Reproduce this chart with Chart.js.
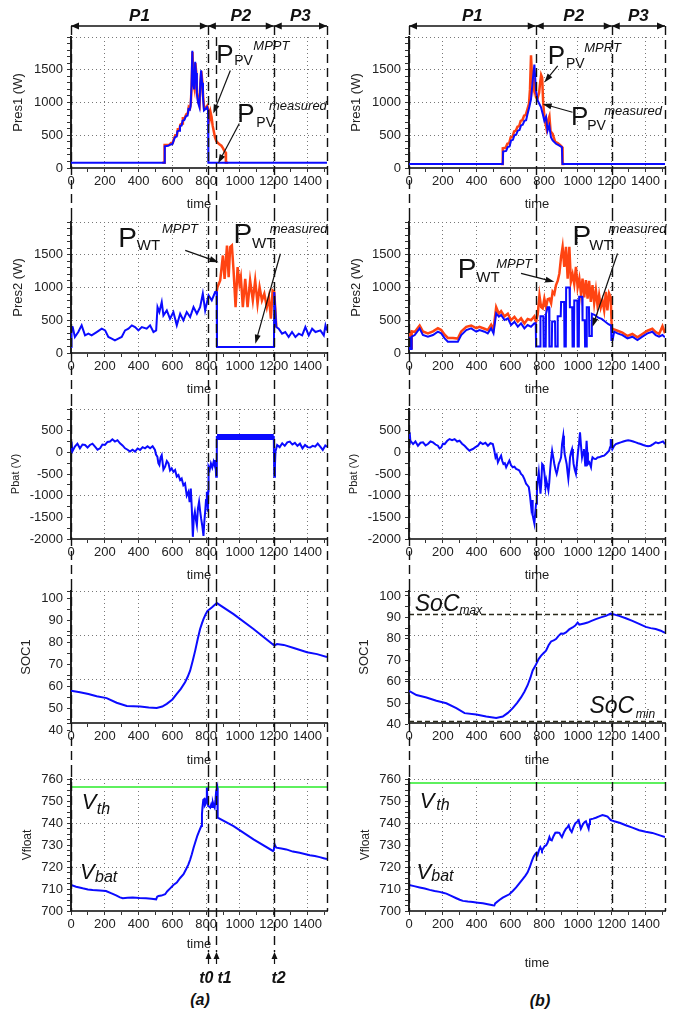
<!DOCTYPE html>
<html>
<head>
<meta charset="utf-8">
<script src="https://cdn.jsdelivr.net/npm/chart.js@4.4.1/dist/chart.umd.min.js"></script>
<style>
  html, body { margin: 0; padding: 0; background: #fff; }
  #fig { position: relative; width: 689px; height: 1015px; overflow: hidden; }
  #fig canvas { position: absolute; }
  .cap { position: absolute; transform: translate(-50%, -50%);
         font: italic bold 16px "Liberation Sans", Arial, sans-serif; color: #111; }
</style>
</head>
<body>
<div id="fig">
  <div class="cap" style="left:200px;top:1000px">(a)</div>
  <div class="cap" style="left:540px;top:1001px">(b)</div>
</div>
<script>
// ---------- data: [time, value] ----------
const pres1aMeasured = [[0,82],[553,82],[555,330],[575,340],[590,360],[600,365],[605,400],[615,470],[625,480],[630,560],[640,570],[645,640],[655,650],[660,720],[670,730],[680,790],[690,800],[695,900],[703,890],[708,950],[713,1240],[718,1790],[723,1300],[729,1200],[735,1620],[740,1450],[745,1130],[752,1000],[760,930],[765,1280],[770,1490],[776,1300],[781,1080],[787,880],[796,900],[805,930],[811,880],[813,82],[1515,82]];
const pres1aMppt = [[540,82],[552,82],[554,350],[580,350],[592,380],[602,380],[607,430],[617,500],[627,500],[632,590],[642,590],[647,660],[657,680],[662,760],[672,760],[682,820],[692,840],[697,930],[704,910],[709,980],[714,1260],[719,1770],[724,1320],[730,1230],[736,1600],[741,1470],[746,1150],[753,1020],[761,960],[766,1300],[771,1480],[777,1320],[782,1100],[788,900],[797,920],[806,950],[812,900],[816,830],[821,760],[826,850],[832,780],[838,650],[845,560],[852,470],[860,410],[870,380],[880,360],[890,340],[900,300],[910,250],[915,240],[917,82],[930,82]];

const pres1bMeasured = [[0,60],[555,60],[557,250],[575,260],[584,320],[595,330],[604,420],[615,430],[624,500],[634,510],[644,570],[654,580],[663,650],[673,660],[683,720],[693,730],[702,830],[712,930],[722,1050],[732,1330],[742,1580],[752,1180],[761,1030],[771,980],[781,930],[791,830],[801,720],[811,780],[820,570],[830,650],[840,470],[850,420],[870,370],[890,340],[905,320],[908,60],[1515,60]];
const pres1bMppt = [[545,60],[553,60],[555,300],[572,310],[582,370],[593,380],[602,470],[613,480],[622,560],[632,570],[642,630],[652,640],[661,720],[671,730],[681,800],[691,810],[700,890],[710,980],[716,1200],[722,1720],[728,1400],[734,1250],[740,1380],[746,1150],[752,1080],[760,1060],[770,1150],[776,1300],[782,1420],[788,1380],[794,1000],[800,820],[806,700],[814,600],[822,720],[831,790],[838,560],[850,520],[865,400],[880,380],[895,350],[906,320],[909,60],[920,60]];

const pres2aMeasured = [[0,90],[3,400],[10,396],[23,244],[43,320],[63,422],[83,269],[103,295],[122,269],[152,320],[182,371],[202,345],[221,244],[241,219],[260,193],[280,219],[300,244],[320,345],[340,371],[360,422],[379,396],[399,345],[419,396],[448,371],[468,422],[488,320],[504,345],[512,701],[523,625],[537,778],[547,574],[567,650],[586,523],[606,625],[626,422],[646,600],[665,498],[685,625],[705,549],[725,701],[745,600],[764,701],[780,905],[794,650],[814,880],[833,803],[853,930],[862,930],[864,90],[1201,90],[1203,930],[1215,396],[1229,371],[1249,295],[1268,320],[1288,244],[1308,320],[1328,244],[1348,295],[1368,269],[1387,396],[1407,269],[1427,371],[1447,320],[1476,345],[1496,269],[1506,422],[1515,345]];
const pres2aMppt = [[855,900],[863,950],[867,1006],[883,1108],[899,1489],[909,1133],[923,1641],[933,1159],[942,1616],[952,1641],[962,1260],[974,701],[986,1311],[997,1057],[1005,1159],[1017,701],[1031,1133],[1045,701],[1060,1108],[1076,803],[1090,1108],[1104,752],[1116,1006],[1130,803],[1144,905],[1159,701],[1171,854],[1183,523],[1193,955],[1203,930],[1215,396]];

const pres2bMeasured = [[0,250],[4,60],[14,60],[16,250],[34,274],[63,376],[82,274],[112,249],[142,274],[171,325],[191,300],[211,224],[230,173],[260,173],[289,173],[309,274],[339,351],[368,376],[398,325],[417,351],[447,325],[466,300],[486,376],[500,300],[516,605],[532,554],[545,580],[565,503],[585,529],[604,427],[624,478],[644,402],[663,453],[683,376],[702,427],[722,402],[742,453],[750,453],[752,100],[776,100],[778,560],[795,560],[797,100],[809,100],[811,600],[820,700],[829,700],[831,100],[845,100],[847,480],[864,480],[866,100],[878,100],[880,560],[898,560],[900,780],[918,780],[920,100],[928,100],[930,1000],[950,1000],[952,700],[966,700],[968,100],[976,100],[978,800],[996,800],[998,100],[1005,100],[1007,860],[1025,860],[1027,500],[1040,500],[1042,100],[1050,100],[1052,700],[1065,700],[1067,260],[1080,260],[1082,600],[1100,580],[1120,540],[1140,520],[1160,480],[1180,440],[1196,420],[1198,200],[1205,200],[1214,325],[1234,300],[1263,274],[1293,224],[1322,249],[1352,198],[1381,249],[1411,300],[1440,325],[1460,274],[1480,249],[1500,274],[1515,239]];
const pres2bMppt = [[0,330],[4,80],[14,80],[16,330],[34,320],[63,420],[82,330],[112,300],[142,330],[171,380],[191,350],[211,280],[230,230],[260,230],[289,220],[309,330],[339,400],[368,420],[398,380],[417,400],[447,370],[466,350],[486,430],[500,360],[516,700],[532,600],[545,640],[565,560],[585,600],[604,500],[624,550],[644,480],[663,530],[683,450],[702,520],[722,500],[742,560],[752,480],[762,600],[772,880],[782,700],[791,680],[801,830],[811,700],[821,820],[831,830],[841,760],[850,935],[860,900],[870,1037],[880,1100],[890,1215],[900,1468],[909,1620],[919,1316],[929,1620],[939,1136],[949,1620],[958,1087],[968,1200],[978,1050],[988,1316],[998,1000],[1008,1136],[1018,900],[1027,1136],[1037,850],[1047,1112],[1057,830],[1066,1100],[1076,780],[1086,1037],[1096,760],[1106,960],[1116,720],[1125,884],[1135,700],[1145,800],[1155,650],[1165,935],[1174,650],[1184,910],[1194,850],[1200,376],[1214,360],[1234,340],[1263,310],[1293,260],[1322,290],[1352,240],[1381,290],[1411,340],[1440,370],[1460,320],[1480,290],[1500,410],[1515,300]];

const pbatA = [[0,50],[3,250],[8,20],[23,131],[38,200],[53,93],[68,180],[83,170],[98,110],[112,170],[127,200],[142,131],[157,60],[172,93],[186,180],[201,170],[216,240],[231,248],[245,300],[260,248],[275,280],[290,209],[305,160],[320,93],[335,60],[349,17],[364,60],[379,17],[394,90],[409,55],[424,120],[438,93],[453,140],[468,93],[483,140],[497,55],[503,-50],[511,-100],[517,-250],[523,-293],[530,-120],[537,-62],[547,-400],[557,-332],[567,-200],[577,-255],[586,-420],[596,-370],[606,-450],[616,-409],[626,-560],[636,-525],[646,-640],[655,-602],[665,-760],[675,-718],[685,-1000],[695,-911],[702,-1150],[709,-834],[715,-1300],[721,-1950],[727,-1500],[733,-1372],[739,-1550],[745,-1680],[751,-1300],[758,-1140],[764,-1350],[770,-1526],[777,-1700],[784,-1930],[789,-1600],[794,-1372],[799,-1100],[804,-911],[808,-1200],[810,-1372],[812,-900],[814,-332],[821,-400],[828,-255],[836,-350],[844,-216],[850,-300],[854,-178],[859,-564],[862,-500],[864,355],[1200,355],[1203,-564],[1207,-300],[1210,17],[1220,170],[1235,120],[1250,209],[1265,150],[1280,230],[1295,248],[1310,180],[1325,220],[1340,150],[1355,200],[1370,93],[1385,170],[1400,120],[1415,110],[1430,150],[1445,131],[1460,200],[1475,130],[1490,55],[1505,160],[1515,131]];
const pbatAHold = [[864,355],[1200,355]];

const pbatB = [[0,200],[4,459],[8,268],[24,191],[38,250],[53,153],[68,220],[83,230],[98,160],[112,191],[127,250],[142,230],[157,180],[171,153],[181,90],[191,115],[201,200],[211,191],[225,260],[240,306],[255,280],[270,306],[285,250],[299,268],[314,200],[329,153],[344,90],[358,38],[368,60],[378,76],[393,120],[408,153],[422,230],[437,191],[452,220],[467,153],[482,210],[496,191],[504,60],[512,-115],[519,-60],[526,-230],[535,-150],[545,-76],[552,-200],[559,-268],[567,-250],[575,-344],[585,-260],[594,-191],[604,-300],[614,-344],[624,-330],[634,-382],[644,-400],[653,-420],[663,-500],[673,-535],[683,-620],[693,-726],[701,-760],[709,-803],[716,-1000],[723,-1261],[728,-1100],[732,-1452],[737,-1550],[742,-1643],[747,-1400],[752,-1185],[757,-900],[762,-650],[768,-459],[773,-700],[778,-956],[783,-700],[788,-268],[796,-306],[802,-500],[808,-803],[813,-650],[817,-726],[821,-800],[825,-879],[830,-700],[835,-420],[841,-150],[847,38],[853,-100],[860,-268],[867,-400],[874,-497],[880,-400],[886,-268],[893,-200],[900,-115],[906,200],[913,382],[917,150],[921,-38],[927,-150],[933,-268],[938,-450],[943,-612],[948,-400],[953,-115],[959,0],[965,76],[970,-100],[974,-268],[981,-400],[988,-497],[994,-250],[1000,0],[1006,200],[1012,459],[1018,150],[1024,-115],[1030,0],[1035,76],[1039,-100],[1043,-306],[1047,-50],[1051,268],[1055,0],[1059,-268],[1067,-230],[1077,-344],[1081,-200],[1086,-115],[1096,-150],[1106,-153],[1116,-120],[1125,-115],[1140,-90],[1155,-76],[1170,-20],[1184,38],[1190,120],[1194,306],[1199,200],[1204,76],[1214,150],[1224,191],[1238,210],[1253,230],[1268,250],[1283,268],[1297,280],[1312,268],[1327,250],[1342,230],[1356,210],[1371,191],[1386,170],[1401,153],[1415,140],[1430,153],[1445,190],[1460,230],[1475,210],[1489,230],[1503,250],[1515,191]];

const socA = [[0,58],[53,57.3],[103,56.5],[152,55.5],[211,54.6],[270,52.5],[330,51.0],[409,50.8],[460,50.3],[507,50.1],[540,50.8],[567,52.0],[600,54.0],[626,56.5],[650,58.8],[675,61.8],[690,64.2],[705,67.1],[720,71.5],[735,76.2],[750,81.5],[764,86],[775,88.6],[784,90.5],[797,92.8],[808,94.3],[833,95.8],[863,97.8],[962,92.8],[1080,86],[1203,78.5],[1219,79.2],[1259,78.8],[1318,77.4],[1397,75.5],[1456,74.6],[1515,73.3]];
const socB = [[0,55.8],[44,53.8],[103,52.7],[162,51.2],[221,50.0],[280,47.7],[329,45.4],[398,44.8],[457,43.8],[516,43.1],[555,43.8],[585,45.5],[614,47.7],[640,50.2],[663,52.7],[683,55.4],[702,58.4],[718,61.8],[732,65.3],[752,68.1],[767,70.6],[782,72.2],[797,73.4],[811,74.5],[826,77.0],[841,78.8],[856,79.3],[870,79.9],[885,81.4],[900,82.5],[915,82.4],[929,83.0],[948,84.4],[968,85.3],[984,86.2],[998,87.6],[1008,86.6],[1017,86.8],[1037,87.2],[1057,87.6],[1080,88.4],[1106,89.2],[1135,90.0],[1165,90.7],[1194,91.8],[1243,90.7],[1283,89.6],[1322,88.4],[1362,87.0],[1401,85.6],[1430,85.0],[1460,84.6],[1490,83.8],[1515,82.8]];
const socMaxB = 91.4;
const socMinB = 41.5;

const vfloatA = [[0,711.8],[30,711],[69,710.3],[100,709.8],[128,709.5],[170,709.3],[207,709.1],[240,708],[267,707.1],[290,706.2],[306,705.8],[335,706],[365,706.1],[405,705.9],[444,705.8],[475,705.6],[504,705.3],[510,706.5],[518,706.8],[535,707],[557,707.6],[570,709],[587,710.3],[606,711.8],[626,712.9],[646,715],[666,716.7],[681,719],[695,721.2],[705,723.3],[715,725.8],[725,728.6],[735,731.1],[748,734.3],[759,736.4],[771,738.6],[775,744],[778,747],[783,750.5],[788,750.8],[792,748],[796,748.5],[800,751],[804,756.1],[808,750],[812,747.7],[818,747.5],[824,747],[830,748.5],[835,747.3],[840,749.2],[845,747.8],[850,747],[855,750.5],[859,754.5],[865,756.1],[867,745],[869,742.4],[962,738.6],[1080,732.6],[1195,727.3],[1200,727.6],[1205,730.3],[1210,729.4],[1215,728.8],[1245,728.4],[1274,728],[1313,727],[1353,726.5],[1383,725.9],[1413,725.3],[1443,725],[1472,724.5],[1495,724],[1515,723.6]];
const vfloatB = [[0,711.8],[30,711.3],[63,710.7],[93,710.2],[122,709.6],[151,709.1],[181,708.7],[201,708.3],[221,707.9],[250,706.9],[280,705.8],[300,705.1],[319,704.6],[348,704.3],[378,704.1],[407,703.8],[437,703.5],[466,703.1],[496,702.6],[505,702.5],[510,703.5],[516,703.8],[535,705],[555,706.1],[575,706.9],[594,707.6],[614,709.1],[634,710.7],[653,712.6],[673,714.5],[688,716],[702,717.6],[715,720],[728,722.9],[738,724.8],[748,726],[755,726.5],[761,725.5],[770,727.8],[777,729],[782,728.2],[787,727.5],[795,728.5],[803,729.5],[811,729.8],[820,731],[831,733.6],[837,732.4],[845,732.1],[855,734],[866,735.6],[878,735.7],[890,735.5],[897,734.5],[905,733.6],[917,735.8],[929,737.4],[937,738],[945,739],[953,737],[963,735.9],[973,738],[984,739.8],[994,740.5],[1004,741.3],[1010,739.5],[1017,737.4],[1030,739.5],[1040,740.5],[1047,740.8],[1055,739],[1063,737.4],[1067,739.5],[1071,741.6],[1090,742],[1106,742.4],[1125,743],[1145,743.6],[1160,743.3],[1175,742.9],[1194,741.3],[1214,740.8],[1250,740],[1283,739],[1322,737.9],[1362,736.7],[1401,736],[1440,735.5],[1480,734.5],[1515,733.6]];
const vthA = 756.4;
const vthB = 758.2;

// time axis
const X_MAX = 1515;
const timeLabels = [0, 200, 400, 600, 800, 1000, 1200, 1400];
const timeGrid = [200, 400, 600, 800, 1000, 1200, 1400];

// periods / events per column
const boundsA = [0, 810, 1200, 1515];
const boundsB = [0, 750, 1200, 1515];
const phaseNames = ['P1', 'P2', 'P3'];
const eventTimesA = [810, 860, 1200];
const eventNamesA = ['t0', 't1', 't2'];

// ---------- drawing ----------
const FONT = '"Liberation Sans", Arial, Helvetica, sans-serif';
Chart.defaults.font.family = FONT;
Chart.defaults.color = '#222';

const BLUE = '#0b0bff', RED = '#ff4412', GREEN = '#5ef05e', INK = '#111';

function range(a, b, s) {
  const r = [];
  for (let v = a; v <= b + 1e-9; v += s) r.push(+v.toFixed(4));
  return r;
}
function trace(list, color, width) {
  return { data: list.map(([x, y]) => ({ x, y })), borderColor: color, borderWidth: width,
           pointRadius: 0, fill: false, tension: 0 };
}
function level(value, color, width, dash) {
  return { data: [{ x: 0, y: value }, { x: X_MAX, y: value }], borderColor: color, borderWidth: width,
           borderDash: dash || [], pointRadius: 0, fill: false };
}

function arrowHead(ctx, x, y, ang, len = 8, half = 3.5) {
  const bx = x - len * Math.cos(ang), by = y - len * Math.sin(ang);
  ctx.beginPath();
  ctx.moveTo(x, y);
  ctx.lineTo(bx - half * Math.sin(ang), by + half * Math.cos(ang));
  ctx.lineTo(bx + half * Math.sin(ang), by - half * Math.cos(ang));
  ctx.closePath();
  ctx.fill();
}

const marks = new Map();
const figureMarks = {
  id: 'figureMarks',
  afterDraw(chart) {
    const m = marks.get(chart.canvas);
    if (!m) return;
    const { ctx, chartArea: area, scales: { x, y } } = chart;
    const px = t => x.getPixelForValue(t);
    const py = v => y.getPixelForValue(v);
    const c = m.col;
    const headerY = area.top - 11;
    ctx.save();
    ctx.strokeStyle = INK;
    ctx.fillStyle = INK;

    // dashed lines running down the whole column
    ctx.lineWidth = 1.4;
    ctx.setLineDash([9, 5]);
    const times = [...new Set([...c.bounds, ...c.events])];
    times.forEach(t => {
      const isBound = c.bounds.includes(t), isEvent = c.events.includes(t);
      let top = 0, bottom = chart.height;
      if (m.row === 0) top = isBound ? headerY : area.top;
      if (m.row === 4) bottom = isEvent ? area.bottom + 41 : area.bottom;
      const xx = Math.round(px(t)) + 0.5;
      ctx.beginPath(); ctx.moveTo(xx, top); ctx.lineTo(xx, bottom); ctx.stroke();
    });
    ctx.setLineDash([]);

    // period header
    if (m.row === 0) {
      ctx.lineWidth = 1.3;
      phaseNames.forEach((name, i) => {
        const x1 = px(c.bounds[i]), x2 = px(c.bounds[i + 1]);
        ctx.beginPath(); ctx.moveTo(x1, headerY); ctx.lineTo(x2, headerY); ctx.stroke();
        arrowHead(ctx, x1, headerY, Math.PI);
        arrowHead(ctx, x2, headerY, 0);
        ctx.font = `italic bold 17px ${FONT}`;
        ctx.textAlign = 'center';
        ctx.textBaseline = 'middle';
        ctx.fillText(name, (x1 + x2) / 2, headerY - 10);
      });
    }

    // labels inside the plot
    ctx.textAlign = 'left';
    ctx.textBaseline = 'alphabetic';
    (m.texts || []).forEach(([t, v, s, font]) => {
      ctx.font = `${font} ${FONT}`;
      ctx.fillText(s, px(t), py(v));
    });
    ctx.lineWidth = 1.2;
    (m.arrows || []).forEach(([t1, v1, t2, v2]) => {
      const x1 = px(t1), y1 = py(v1), x2 = px(t2), y2 = py(v2);
      const ang = Math.atan2(y2 - y1, x2 - x1);
      ctx.beginPath(); ctx.moveTo(x1, y1);
      ctx.lineTo(x2 - 6 * Math.cos(ang), y2 - 6 * Math.sin(ang)); ctx.stroke();
      arrowHead(ctx, x2, y2, ang, 9, 3);
    });

    // event arrows under the last panel
    if (m.row === 4) {
      c.events.forEach((t, i) => {
        const xx = Math.round(px(t)) + 0.5;
        ctx.beginPath(); ctx.moveTo(xx, area.bottom + 53); ctx.lineTo(xx, area.bottom + 45); ctx.stroke();
        arrowHead(ctx, xx, area.bottom + 41, -Math.PI / 2, 7, 3);
        ctx.font = `italic bold 16px ${FONT}`;
        ctx.textAlign = c.eventAlign[i];
        ctx.fillText(c.eventNames[i], xx + c.eventShift[i], area.bottom + 72);
      });
    }
    ctx.restore();
  }
};
Chart.register(figureMarks);

const colA = { left: 0, bounds: boundsA, events: eventTimesA, eventNames: eventNamesA,
               eventAlign: ['right', 'left', 'center'], eventShift: [5, 1, 4], lastAxisH: 41 };
const colB = { left: 338, bounds: boundsB, events: [], eventNames: [], eventAlign: [], eventShift: [], lastAxisH: 60 };

const ROWS = [
  { top: 0,   h: 212, padTop: 37, plotH: 131, axisH: 44 },
  { top: 212, h: 185, padTop: 10, plotH: 131, axisH: 44 },
  { top: 397, h: 186, padTop: 12, plotH: 130, axisH: 44 },
  { top: 583, h: 185, padTop: 8,  plotH: 132, axisH: 45 },
  { top: 768, h: 247, padTop: 11, plotH: 132, axisH: 0 }
];

function presAxis(title) {
  return { min: 0, max: 2000, ticks: range(0, 2000, 100), labels: [0, 500, 1000, 1500],
           grid: [500, 1000, 1500, 2000], title, titleSize: 13, titlePad: 11 };
}
const pbatAxis = { min: -2000, max: 1000, ticks: range(-2000, 1000, 250),
                   labels: [-2000, -1500, -1000, -500, 0, 500], grid: [-1000, 0, 1000],
                   title: 'Pbat (V)', titleSize: 11, titlePad: 9 };
const socAxisA = { min: 43.3, max: 103.3,
                   ticks: [40, 43.3, 45, 50, 55, 60, 63.3, 65, 70, 75, 80, 83.3, 85, 90, 95, 100, 103.3],
                   labels: [40, 50, 60, 70, 80, 90, 100], grid: [63.3, 83.3, 103.3],
                   title: 'SOC1', titleSize: 13, titlePad: 19 };
const socAxisB = { min: 40.8, max: 102.3,
                   ticks: [40, 45, 50, 55, 60, 61.3, 65, 70, 75, 80, 81.8, 85, 90, 95, 100, 102.3],
                   labels: [40, 50, 60, 70, 80, 90, 100], grid: [61.3, 81.8, 102.3],
                   title: 'SOC1', titleSize: 13, titlePad: 19 };
const vAxis = { min: 700, max: 760, ticks: range(700, 760, 2.5),
                labels: [700, 710, 720, 730, 740, 750, 760], grid: [720, 740, 760],
                title: 'Vfloat', titleSize: 12, titlePad: 20 };

const panels = [
  { col: colA, row: 0, axis: presAxis('Pres1 (W)'),
    sets: [trace(pres1aMeasured, BLUE, 2), trace(pres1aMppt, RED, 2.5)],
    texts: [[860, 1596, 'P', '26px'], [966, 1566, 'PV', '14px'], [1079, 1809, 'MPPT', 'italic 13px'],
            [984, 697, 'P', '26px'], [1097, 620, 'PV', '14px'], [1172, 893, 'measured', 'italic 13px']],
    arrows: [[943, 1489, 842, 833], [996, 680, 871, 72]] },
  { col: colB, row: 0, axis: presAxis('Pres1 (W)'),
    sets: [trace(pres1bMeasured, BLUE, 2), trace(pres1bMppt, RED, 2.5)],
    texts: [[821, 1591, 'P', '26px'], [929, 1530, 'PV', '14px'], [1037, 1773, 'MPRT', 'italic 13px'],
            [959, 649, 'P', '26px'], [1055, 573, 'PV', '14px'], [1155, 816, 'measured', 'italic 13px']],
    arrows: [[880, 1561, 801, 1307], [968, 851, 791, 979]] },
  { col: colA, row: 1, axis: presAxis('Pres2 (W)'),
    sets: [trace(pres2aMeasured, BLUE, 2), trace(pres2aMppt, RED, 2.5)],
    texts: [[280, 1616, 'P', '28px'], [389, 1570, 'WT', '15px'], [538, 1829, 'MPPT', 'italic 13px'],
            [962, 1683, 'P', '28px'], [1071, 1601, 'WT', '15px'], [1176, 1829, 'measured', 'italic 13px']],
    arrows: [[676, 1566, 873, 1387], [1239, 1515, 1091, 143]] },
  { col: colB, row: 1, axis: presAxis('Pres2 (W)'),
    sets: [trace(pres2bMeasured, BLUE, 2), trace(pres2bMppt, RED, 2.5)],
    texts: [[289, 1139, 'P', '28px'], [398, 1087, 'WT', '15px'], [516, 1291, 'MPPT', 'italic 13px'],
            [968, 1646, 'P', '28px'], [1067, 1570, 'WT', '15px'], [1181, 1825, 'measured', 'italic 13px']],
    arrows: [[663, 1215, 860, 1087], [1234, 1520, 1086, 401]] },
  { col: colA, row: 2, axis: pbatAxis,
    sets: [trace(pbatA, BLUE, 2), trace(pbatAHold, BLUE, 6)] },
  { col: colB, row: 2, axis: pbatAxis,
    sets: [trace(pbatB, BLUE, 2)] },
  { col: colA, row: 3, axis: socAxisA,
    sets: [trace(socA, BLUE, 2)] },
  { col: colB, row: 3, axis: socAxisB,
    sets: [trace(socB, BLUE, 2), level(socMaxB, '#2b2b1c', 1.5, [5, 3]), level(socMinB, '#2b2b1c', 1.5, [5, 3])],
    texts: [[34, 93.1, 'SoC', 'italic 23px'], [299, 91.7, 'max', 'italic 12px'],
            [1068, 45.5, 'SoC', 'italic 23px'], [1342, 43.2, 'min', 'italic 12px']] },
  { col: colA, row: 4, axis: vAxis,
    sets: [trace(vfloatA, BLUE, 2), level(vthA, GREEN, 2)],
    texts: [[63, 746.2, 'V', 'italic 22px'], [152, 744.1, 'th', 'italic 16px'],
            [53, 714.4, 'V', 'italic 22px'], [142, 713.2, 'bat', 'italic 16px']] },
  { col: colB, row: 4, axis: vAxis,
    sets: [trace(vfloatB, BLUE, 2), level(vthB, GREEN, 2)],
    texts: [[63, 746.7, 'V', 'italic 22px'], [162, 745.9, 'th', 'italic 16px'],
            [44, 714.6, 'V', 'italic 22px'], [132, 713.6, 'bat', 'italic 16px']] }
];

const fig = document.getElementById('fig');
const tickFont = { size: 13 };
const clear = 'rgba(0,0,0,0)';

panels.forEach(p => {
  const r = ROWS[p.row];
  const axisH = p.row === 4 ? p.col.lastAxisH : r.axisH;
  const padBottom = r.h - r.padTop - r.plotH - axisH;
  const a = p.axis;

  const canvas = document.createElement('canvas');
  canvas.width = 340;
  canvas.height = r.h;
  canvas.style.left = p.col.left + 'px';
  canvas.style.top = r.top + 'px';
  fig.appendChild(canvas);
  marks.set(canvas, p);

  new Chart(canvas, {
    type: 'line',
    data: { datasets: p.sets },
    options: {
      responsive: false,
      animation: false,
      events: [],
      layout: { padding: { top: r.padTop, right: 13, bottom: padBottom, left: 0 } },
      plugins: { legend: { display: false }, tooltip: { enabled: false } },
      scales: {
        x: {
          type: 'linear', min: 0, max: X_MAX,
          afterBuildTicks: s => { s.ticks = range(0, 1500, 100).map(v => ({ value: v })); },
          afterFit: s => { s.height = axisH; s.paddingLeft = 0; s.paddingRight = 0; },
          ticks: { autoSkip: false, maxRotation: 0, padding: 2, color: '#222', font: tickFont,
                   callback: v => timeLabels.includes(v) ? String(v) : '' },
          grid: { color: c => (c.tick && timeGrid.includes(c.tick.value)) ? '#777' : clear,
                  tickColor: '#333', tickLength: 4, lineWidth: 1 },
          border: { color: '#444', width: 2, dash: [1, 3] },
          title: { display: true, text: 'time', color: '#222', font: { size: 13 }, padding: { top: 0, bottom: 0 } }
        },
        y: {
          type: 'linear', min: a.min, max: a.max,
          afterBuildTicks: s => { s.ticks = a.ticks.map(v => ({ value: v })); },
          afterFit: s => { s.width = 71; s.paddingTop = 0; s.paddingBottom = 0; },
          ticks: { autoSkip: false, padding: 4, color: '#222', font: tickFont,
                   callback: v => a.labels.includes(v) ? String(v) : '' },
          grid: { color: c => (c.tick && a.grid.includes(c.tick.value)) ? '#777' : clear,
                  tickColor: '#333', tickLength: 4, lineWidth: 1 },
          border: { color: '#222', width: 2, dash: [1, 3] },
          title: { display: true, text: a.title, color: '#222', font: { size: a.titleSize },
                   padding: { top: a.titlePad, bottom: 0 } }
        }
      }
    }
  });
});
</script>
</body>
</html>
